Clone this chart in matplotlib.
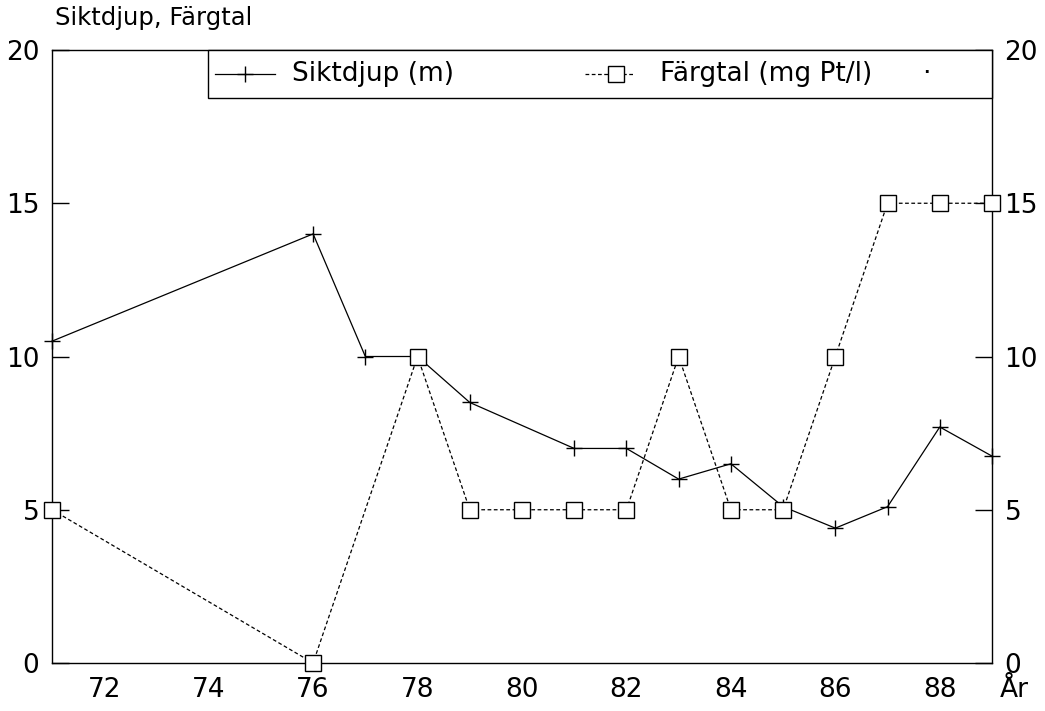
import matplotlib
matplotlib.use("Agg")
import matplotlib.pyplot as plt
from matplotlib.lines import Line2D
from matplotlib.patches import Rectangle

years = [71, 76, 77, 78, 79, 81, 82, 83, 84, 85, 86, 87, 88, 89]
siktdjup = [10.5, 14.0, 10.0, 10.0, 8.5, 7.0, 7.0, 6.0, 6.5, 5.1, 4.4, 5.1, 7.7, 6.75]

farg_years = [71, 76, 78, 79, 80, 81, 82, 83, 84, 85, 86, 87, 88, 89]
fargtal = [5, 0, 10, 5, 5, 5, 5, 10, 5, 5, 10, 15, 15, 15]

xticks = [72, 74, 76, 78, 80, 82, 84, 86, 88]
yticks = [0, 5, 10, 15, 20]

W, H = 1045, 711
plt.rcParams['font.family'] = ['DejaVu Sans']
fig = plt.figure(figsize=(W/100, H/100), dpi=100)
ax = fig.add_axes([52/W, 1-663/H, 940/W, 613/H])

ax.plot(years, siktdjup, color='black', lw=0.9, marker='+', ms=12, mew=1.0,
        clip_on=False, zorder=3)
ax.plot(farg_years, fargtal, color='black', lw=0.9, ls=(0, (3, 2)), marker='s',
        ms=11, mfc='white', mec='black', mew=1.0, clip_on=False, zorder=3)

ax.set_xlim(71, 89)
ax.set_ylim(0, 20)
ax.set_xticks(xticks)
ax.set_xticklabels([str(t) for t in xticks], fontsize=19)
ax.tick_params(axis='x', length=0, pad=10)
ax.set_yticks(yticks)
ax.set_yticklabels([str(t) for t in yticks], fontsize=19)
ax.tick_params(axis='y', direction='in', length=12, width=1, pad=9,
               left=True, right=True, labelleft=True, labelright=True)
for s in ax.spines.values():
    s.set_linewidth(1.0)

fig.text(1000/W, 1-690/H, 'År', fontsize=19, ha='left', va='center')
fig.text(55/W, 1-18/H, 'Siktdjup, Färgtal', fontsize=17.5, ha='left', va='center')

# legend box
fig.add_artist(Rectangle((208/W, 1-98/H), (992-208)/W, 48/H, transform=fig.transFigure,
                         fill=True, facecolor='white', edgecolor='black', lw=1.0, zorder=5))
ly = 1-74/H
fig.add_artist(Line2D([215/W, 275/W], [ly, ly], transform=fig.transFigure, color='black',
                      lw=0.9, zorder=6))
fig.add_artist(Line2D([245/W], [ly], transform=fig.transFigure, color='black', lw=0,
                      marker='+', ms=12, mew=1.0, zorder=6))
fig.text(292/W, ly, 'Siktdjup (m)', fontsize=19, ha='left', va='center', zorder=6)
fig.add_artist(Line2D([585/W, 635/W], [ly, ly], transform=fig.transFigure, color='black',
                      lw=0.9, ls=(0, (3, 2)), zorder=6))
fig.add_artist(Line2D([616/W], [ly], transform=fig.transFigure, color='black', lw=0,
                      marker='s', ms=11, mfc='white', mec='black', mew=1.0, zorder=6))
fig.text(660/W, ly, 'Färgtal (mg Pt/l)', fontsize=19, ha='left', va='center', zorder=6)
fig.text(922/W, ly, '·', fontsize=19, ha='left', va='center', zorder=6)

fig.savefig('out.png', dpi=100)
